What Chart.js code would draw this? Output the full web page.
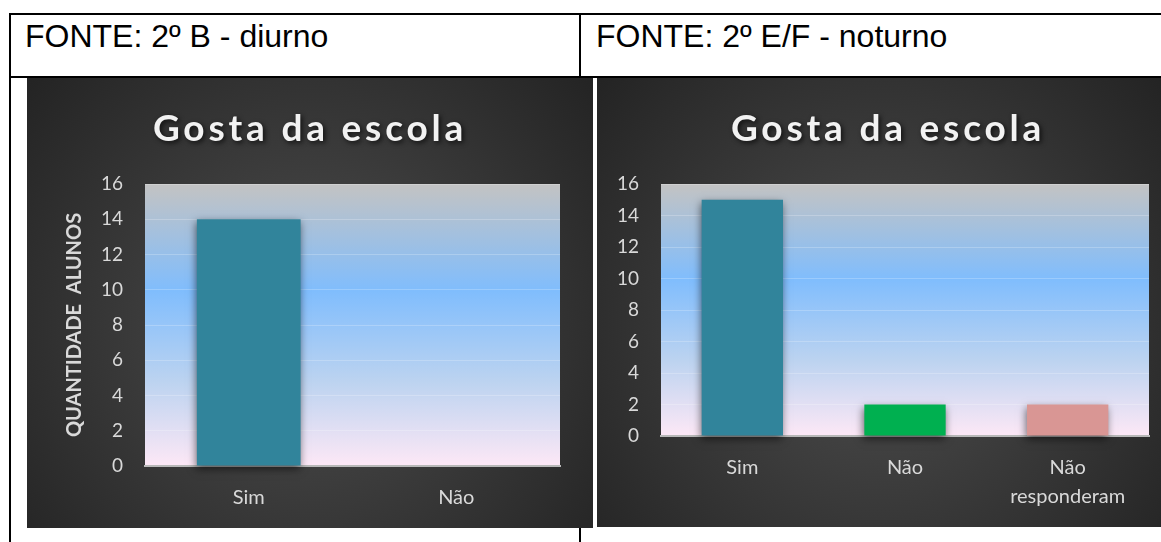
<!DOCTYPE html>
<html><head><meta charset="utf-8">
<script src="https://cdn.jsdelivr.net/npm/chart.js@4"></script>
<style>
html,body{margin:0;padding:0;background:#fff;width:1161px;height:542px;overflow:hidden;position:relative;font-family:"Liberation Sans",Arial,sans-serif}
.line{position:absolute;background:#000}
.hdr{position:absolute;font-size:32px;line-height:32px;color:#000;white-space:nowrap}
.box{position:absolute}
</style></head><body>
<div class="line" style="left:9px;top:13px;width:1152px;height:2px"></div>
<div class="line" style="left:9px;top:76px;width:1152px;height:2px"></div>
<div class="line" style="left:9px;top:13px;width:2px;height:529px"></div>
<div class="line" style="left:579px;top:13px;width:2px;height:529px"></div>
<div class="hdr" style="left:25px;top:20px">FONTE: 2º B - diurno</div>
<div class="hdr" style="left:596px;top:20px">FONTE: 2º E/F - noturno</div>
<div class="box" style="left:27px;top:78px;width:566px;height:450px"><canvas id="c1"></canvas></div>
<div class="box" style="left:597px;top:78px;width:564px;height:449px"><canvas id="c2"></canvas></div>
<script>
// ---- data ----
const chartTitle = 'Gosta da escola';
const yAxisTitle = 'QUANTIDADE  ALUNOS';
const yTickValues = [0, 2, 4, 6, 8, 10, 12, 14, 16];
const categoriesDiurno = ['Sim', 'Não'];
const valuesDiurno = [14, 0];
const categoriesNoturno = ['Sim', 'Não', ['Não', 'responderam']];
const valuesNoturno = [15, 2, 2];

// ---- styles ----
const colorsDiurno = ['#31849B', '#31849B'];
const colorsNoturno = ['#31849B', '#00B050', '#D99694'];
const FONT = 'Lato, "Open Sans", sans-serif';
Chart.defaults.font.family = FONT;

const decor = {
  id: 'decor',
  beforeDraw(chart) {
    const {ctx, width, height, chartArea: ca} = chart;
    ctx.save();
    const cx = width * 0.5, cy = height * 0.55;
    const g = ctx.createRadialGradient(cx, cy, 0, cx, cy, Math.hypot(width, height) * 0.55);
    g.addColorStop(0, '#4e4e4e');
    g.addColorStop(1, '#212121');
    ctx.fillStyle = g;
    ctx.fillRect(0, 0, width, height);
    const lg = ctx.createLinearGradient(0, ca.top, 0, ca.bottom);
    lg.addColorStop(0, '#c3c3c3');
    lg.addColorStop(0.38, '#80bdfd');
    lg.addColorStop(0.7, '#bcd3f0');
    lg.addColorStop(1, '#fde8f6');
    ctx.fillStyle = lg;
    ctx.fillRect(ca.left, ca.top, ca.right - ca.left, ca.bottom - ca.top);
    ctx.restore();
  },
  beforeDatasetsDraw(chart) {
    const ctx = chart.ctx;
    ctx.save();
    ctx.shadowColor = 'rgba(0,0,0,0.55)';
    ctx.shadowBlur = 8;
    ctx.shadowOffsetX = -1;
    ctx.shadowOffsetY = 3;
  },
  afterDatasetsDraw(chart) {
    chart.ctx.restore();
  },
  afterDraw(chart, args, opts) {
    const ctx = chart.ctx;
    ctx.save();
    ctx.font = 'bold 37px ' + FONT;
    ctx.letterSpacing = '3.8px';
    ctx.textAlign = 'center';
    ctx.textBaseline = 'alphabetic';
    ctx.shadowColor = 'rgba(0,0,0,0.7)';
    ctx.shadowBlur = 5;
    ctx.shadowOffsetX = 2;
    ctx.shadowOffsetY = 2;
    ctx.fillStyle = '#f2f2f2';
    ctx.fillText(opts.text, opts.x, opts.y);
    ctx.restore();
  }
};

function makeChart(id, cats, vals, colors, o) {
  return new Chart(document.getElementById(id), {
    type: 'bar',
    data: {
      labels: cats,
      datasets: [{
        data: vals,
        backgroundColor: colors,
        borderWidth: 0,
        categoryPercentage: 0.5,
        barPercentage: 1,
        clip: false
      }]
    },
    plugins: [decor],
    options: {
      responsive: true,
      maintainAspectRatio: false,
      animation: false,
      layout: {padding: {top: 106, left: 0, right: o.padRight, bottom: 0}},
      plugins: {
        legend: {display: false},
        tooltip: {enabled: false},
        decor: {text: chartTitle, x: o.titleX, y: 63}
      },
      scales: {
        x: {
          grid: {display: false},
          border: {display: true, color: '#b8b8b8', width: 2},
          ticks: {color: '#d9d9d9', font: {size: 20, lineHeight: '29px'}, padding: 9, autoSkip: false, maxRotation: 0},
          afterFit: s => { s.height = o.xHeight; }
        },
        y: {
          min: 0, max: 16,
          afterBuildTicks: s => { s.ticks = yTickValues.map(v => ({value: v})); },
          grid: {color: 'rgba(255,255,255,0.22)', drawTicks: false},
          border: {display: false},
          ticks: {color: '#d9d9d9', font: {size: 19}, padding: 22},
          title: o.yTitle ? {display: true, text: yAxisTitle, color: '#d9d9d9', font: {size: 20, weight: 'bold'}, padding: {top: 36}} : {display: false},
          afterFit: s => { s.width = o.yWidth; }
        }
      }
    }
  });
}

makeChart('c1', categoriesDiurno, valuesDiurno, colorsDiurno, {padRight: 33, xHeight: 62, yWidth: 118, titleX: 283, yTitle: true});
makeChart('c2', categoriesNoturno, valuesNoturno, colorsNoturno, {padRight: 12, xHeight: 91, yWidth: 64, titleX: 291, yTitle: false});
</script>
</body></html>
